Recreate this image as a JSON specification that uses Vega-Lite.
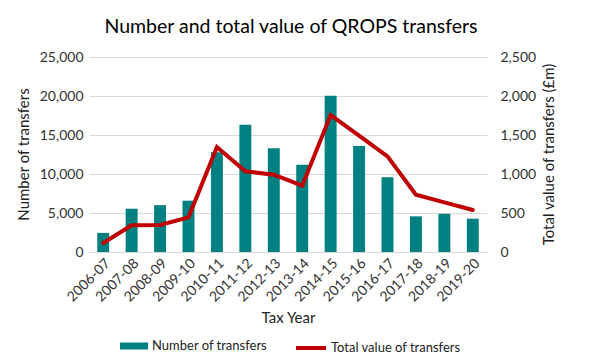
{
  "$schema": "https://vega.github.io/schema/vega-lite/v6.json",
  "width": 398,
  "height": 195,
  "autosize": {"type": "none"},
  "padding": {"left": 89, "top": 57, "right": 103, "bottom": 103},
  "background": "white",
  "config": {
    "font": "Lato",
    "view": {"stroke": null},
    "axis": {"labelFont": "Lato", "titleFont": "Lato", "labelColor": "#333333", "titleColor": "#222222", "labelFontSize": 14, "titleFontSize": 15, "titleFontWeight": "normal"},
    "legend": {"labelFont": "Lato", "labelFontSize": 13, "labelColor": "#222222", "padding": 0}
  },
  "title": {"text": "Number and total value of QROPS transfers", "font": "Lato", "fontSize": 19.5, "fontWeight": "normal", "color": "#000000", "anchor": "middle", "frame": "group", "offset": 13, "dx": 3},
  "data": {"values": [
    {"year": "2006-07", "transfers": 2450, "value": 115},
    {"year": "2007-08", "transfers": 5550, "value": 342},
    {"year": "2008-09", "transfers": 6000, "value": 346},
    {"year": "2009-10", "transfers": 6580, "value": 444},
    {"year": "2010-11", "transfers": 12800, "value": 1346},
    {"year": "2011-12", "transfers": 16300, "value": 1034},
    {"year": "2012-13", "transfers": 13300, "value": 991},
    {"year": "2013-14", "transfers": 11200, "value": 850},
    {"year": "2014-15", "transfers": 20040, "value": 1756},
    {"year": "2015-16", "transfers": 13600, "value": 1491},
    {"year": "2016-17", "transfers": 9570, "value": 1226},
    {"year": "2017-18", "transfers": 4570, "value": 735},
    {"year": "2018-19", "transfers": 4900, "value": 637},
    {"year": "2019-20", "transfers": 4270, "value": 538}
  ]},
  "encoding": {
    "x": {
      "field": "year", "type": "ordinal", "sort": null,
      "scale": {"paddingInner": 0.58, "paddingOuter": 0.29},
      "axis": {"title": "Tax Year", "labelAngle": -45, "labelPadding": 4, "ticks": false, "domain": true, "domainColor": "#d9d9d9", "grid": false, "titlePadding": 6}
    }
  },
  "layer": [
    {
      "mark": {"type": "bar"},
      "encoding": {
        "y": {"field": "transfers", "type": "quantitative", "scale": {"domain": [0, 25000]},
          "axis": {"title": "Number of transfers", "titleAngle": 270, "titleX": -66, "titleY": 97, "titleAlign": "center", "titleBaseline": "middle", "values": [0, 5000, 10000, 15000, 20000, 25000], "format": ",.0f", "grid": true, "gridColor": "#d9d9d9", "domain": false, "ticks": false, "labelPadding": 6}},
        "fill": {"datum": "Number of transfers", "scale": {"range": ["#008080"]},
          "legend": {"title": null, "orient": "none", "legendX": 31, "legendY": 275, "symbolType": "M-1,-0.25H1V0.25H-1Z", "symbolSize": 784, "symbolStrokeWidth": 0, "labelOffset": 4}}
      }
    },
    {
      "mark": {"type": "line", "strokeWidth": 4, "strokeCap": "round"},
      "encoding": {
        "y": {"field": "value", "type": "quantitative", "scale": {"domain": [0, 2500]},
          "axis": {"orient": "right", "title": "Total value of transfers (£m)", "titleAngle": 270, "titleX": 61, "titleY": 97, "titleAlign": "center", "titleBaseline": "middle", "values": [0, 500, 1000, 1500, 2000, 2500], "format": ",.0f", "grid": false, "domain": false, "ticks": false, "labelPadding": 13}},
        "stroke": {"datum": "Total value of transfers", "scale": {"range": ["#C00000"]},
          "legend": {"title": null, "orient": "none", "legendX": 205, "legendY": 274, "symbolType": "stroke", "symbolSize": 900, "symbolStrokeWidth": 4, "labelOffset": 3}}
      }
    }
  ],
  "resolve": {"scale": {"y": "independent"}, "legend": {"fill": "independent", "stroke": "independent"}}
}
